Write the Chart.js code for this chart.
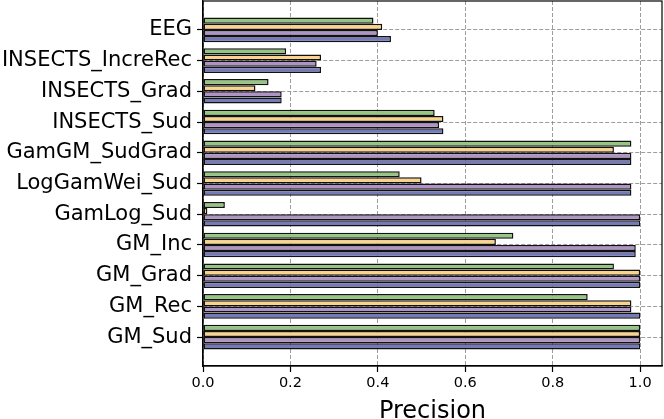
<!DOCTYPE html>
<html>
<head>
<meta charset="utf-8">
<script src="https://cdn.jsdelivr.net/npm/chart.js@4"></script>
<style>
  html, body { margin: 0; padding: 0; background: #fff; }
  #wrap { width: 664px; height: 419px; }
</style>
</head>
<body>
<div id="wrap"><canvas id="chart" width="664" height="419"></canvas></div>
<script>
// categorias de arriba hacia abajo
const categories = ['EEG', 'INSECTS_IncreRec', 'INSECTS_Grad', 'INSECTS_Sud', 'GamGM_SudGrad',
    'LogGamWei_Sud', 'GamLog_Sud', 'GM_Inc', 'GM_Grad', 'GM_Rec', 'GM_Sud'];

const serieVerde   = [0.39, 0.19, 0.15, 0.53, 0.98, 0.45, 0.05, 0.71, 0.94, 0.88, 1.00];
const serieNaranja = [0.41, 0.27, 0.12, 0.55, 0.94, 0.50, 0.01, 0.67, 1.00, 0.98, 1.00];
const serieMalva   = [0.40, 0.26, 0.18, 0.54, 0.98, 0.98, 1.00, 0.99, 1.00, 0.98, 1.00];
const serieAzul    = [0.43, 0.27, 0.18, 0.55, 0.98, 0.98, 1.00, 0.99, 1.00, 1.00, 1.00];

const xTicks = [0.0, 0.2, 0.4, 0.6, 0.8, 1.0];

const n = categories.length;
// posicion en el eje: la primera categoria queda arriba
const toPoints = (arr) => arr.map((v, i) => ({ x: v, y: n - 1 - i }));

const FONT = "'DejaVu Sans', sans-serif";

// marco completo (los cuatro lados)
const framePlugin = {
    id: 'frame',
    afterDraw(chart) {
        const { ctx, chartArea: a } = chart;
        ctx.save();
        ctx.strokeStyle = '#000';
        ctx.lineWidth = 1.2;
        ctx.strokeRect(a.left, a.top, a.right - a.left, a.bottom - a.top);
        ctx.restore();
    }
};

const makeDataset = (label, arr, color) => ({
    label: label,
    data: toPoints(arr),
    backgroundColor: color,
    borderColor: '#111',
    borderWidth: 1.5,
    borderSkipped: false,
    categoryPercentage: 0.8,
    barPercentage: 1.0
});

const gridOpts = {
    offset: false,
    color: 'rgba(140,140,140,0.85)',
    lineWidth: 1,
    tickLength: 6,
    tickColor: '#000',
    tickWidth: 1.2
};

new Chart(document.getElementById('chart'), {
    type: 'bar',
    data: {
        datasets: [
            makeDataset('Serie 1', serieVerde, '#95c681'),
            makeDataset('Serie 2', serieNaranja, '#fad48a'),
            makeDataset('Serie 3', serieMalva, '#b093c5'),
            makeDataset('Serie 4', serieAzul, '#7579b8')
        ]
    },
    options: {
        indexAxis: 'y',
        responsive: false,
        animation: false,
        devicePixelRatio: 1,
        layout: { padding: { top: 1, right: 2, left: 0, bottom: 0 } },
        plugins: {
            legend: { display: false },
            tooltip: { enabled: false }
        },
        scales: {
            x: {
                type: 'linear',
                min: 0,
                max: 1.05,
                offset: false,
                z: 1,
                afterBuildTicks: (axis) => { axis.ticks = xTicks.map(v => ({ value: v })); },
                afterFit: (scale) => {
                    scale.height = 53;
                    scale.paddingLeft = 0;
                    scale.paddingRight = 0;
                },
                ticks: {
                    color: '#000',
                    padding: 3,
                    maxRotation: 0,
                    font: { family: FONT, size: 14.5 },
                    callback: (v) => Number(v).toFixed(1)
                },
                grid: gridOpts,
                border: { display: true, color: '#000', width: 1.2, dash: [4, 2] },
                title: {
                    display: true,
                    text: 'Precision',
                    color: '#000',
                    font: { family: FONT, size: 24, lineHeight: 0.6 },
                    padding: { top: 0, bottom: 0 }
                }
            },
            y: {
                type: 'linear',
                min: -0.94,
                max: 10.94,
                offset: false,
                z: 1,
                afterBuildTicks: (axis) => { axis.ticks = categories.map((_, i) => ({ value: i })); },
                afterFit: (scale) => {
                    scale.width = 203;
                    scale.paddingTop = 0;
                    scale.paddingBottom = 0;
                },
                ticks: {
                    color: '#000',
                    padding: 5,
                    font: { family: FONT, size: 21 },
                    callback: (v) => categories[n - 1 - v]
                },
                grid: gridOpts,
                border: { display: true, color: '#000', width: 1.2, dash: [4, 2] }
            }
        }
    },
    plugins: [framePlugin]
});
</script>
</body>
</html>
